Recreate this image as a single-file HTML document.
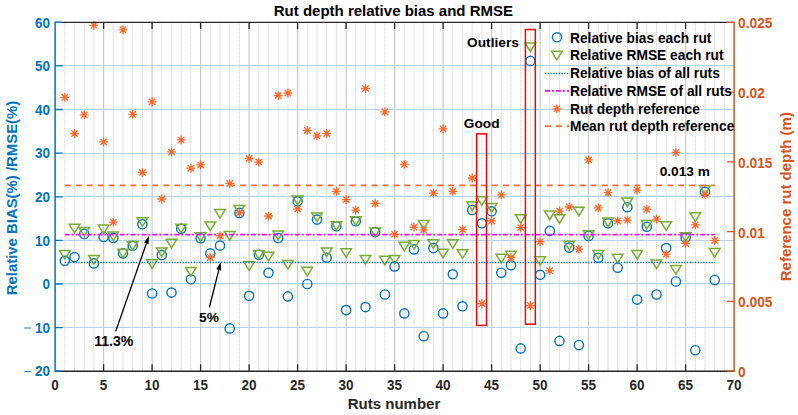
<!DOCTYPE html><html><head><meta charset="utf-8"><style>
html,body{margin:0;padding:0;background:#fff;}
svg{display:block;font-family:"Liberation Sans",sans-serif;font-weight:bold;}
</style></head><body>
<svg width="798" height="415" viewBox="0 0 798 415">
<rect width="798" height="415" fill="#fff"/>
<path d="M64.8 22.3V371.2M74.5 22.3V371.2M84.2 22.3V371.2M93.9 22.3V371.2M113.3 22.3V371.2M123.0 22.3V371.2M132.7 22.3V371.2M142.4 22.3V371.2M161.8 22.3V371.2M171.5 22.3V371.2M181.2 22.3V371.2M190.9 22.3V371.2M210.3 22.3V371.2M220.0 22.3V371.2M229.7 22.3V371.2M239.4 22.3V371.2M258.8 22.3V371.2M268.5 22.3V371.2M278.2 22.3V371.2M287.9 22.3V371.2M307.3 22.3V371.2M317.0 22.3V371.2M326.7 22.3V371.2M336.4 22.3V371.2M355.8 22.3V371.2M365.5 22.3V371.2M375.2 22.3V371.2M384.9 22.3V371.2M404.3 22.3V371.2M414.0 22.3V371.2M423.7 22.3V371.2M433.4 22.3V371.2M452.8 22.3V371.2M462.5 22.3V371.2M472.2 22.3V371.2M481.9 22.3V371.2M501.3 22.3V371.2M511.0 22.3V371.2M520.7 22.3V371.2M530.4 22.3V371.2M549.8 22.3V371.2M559.5 22.3V371.2M569.2 22.3V371.2M578.9 22.3V371.2M598.3 22.3V371.2M608.0 22.3V371.2M617.7 22.3V371.2M627.4 22.3V371.2M646.8 22.3V371.2M656.5 22.3V371.2M666.2 22.3V371.2M675.9 22.3V371.2M695.3 22.3V371.2M705.0 22.3V371.2M714.7 22.3V371.2M724.4 22.3V371.2" stroke="#b9b9b9" stroke-width="0.8" stroke-dasharray="1 1" fill="none"/>
<path d="M103.6 22.3V371.2M152.1 22.3V371.2M200.6 22.3V371.2M249.1 22.3V371.2M297.6 22.3V371.2M346.1 22.3V371.2M394.6 22.3V371.2M443.1 22.3V371.2M491.6 22.3V371.2M540.1 22.3V371.2M588.6 22.3V371.2M637.1 22.3V371.2M685.6 22.3V371.2" stroke="#c9c9c9" stroke-width="1.2" fill="none"/>
<path d="M55.1 327.5H734.1M55.1 283.5H734.1M55.1 240.5H734.1M55.1 196.5H734.1M55.1 153.5H734.1M55.1 109.5H734.1M55.1 65.5H734.1" stroke="#b4d2ec" stroke-width="1" fill="none"/>
<g stroke="#0072BD" stroke-width="1.4" fill="none">
<circle cx="64.8" cy="260.8" r="4.6"/><circle cx="74.5" cy="257.1" r="4.6"/><circle cx="84.2" cy="233.9" r="4.6"/><circle cx="93.9" cy="263.4" r="4.6"/><circle cx="103.6" cy="237.0" r="4.6"/><circle cx="113.3" cy="237.9" r="4.6"/><circle cx="123.0" cy="253.4" r="4.6"/><circle cx="132.7" cy="245.8" r="4.6"/><circle cx="142.4" cy="224.3" r="4.6"/><circle cx="152.1" cy="293.5" r="4.6"/><circle cx="161.8" cy="255.1" r="4.6"/><circle cx="171.5" cy="292.6" r="4.6"/><circle cx="181.2" cy="228.8" r="4.6"/><circle cx="190.9" cy="279.3" r="4.6"/><circle cx="200.6" cy="238.2" r="4.6"/><circle cx="210.3" cy="253.4" r="4.6"/><circle cx="220.0" cy="245.6" r="4.6"/><circle cx="229.7" cy="328.4" r="4.6"/><circle cx="239.4" cy="212.9" r="4.6"/><circle cx="249.1" cy="295.8" r="4.6"/><circle cx="258.8" cy="254.7" r="4.6"/><circle cx="268.5" cy="272.8" r="4.6"/><circle cx="278.2" cy="238.0" r="4.6"/><circle cx="287.9" cy="296.4" r="4.6"/><circle cx="297.6" cy="201.3" r="4.6"/><circle cx="307.3" cy="284.0" r="4.6"/><circle cx="317.0" cy="219.6" r="4.6"/><circle cx="326.7" cy="257.7" r="4.6"/><circle cx="336.4" cy="226.3" r="4.6"/><circle cx="346.1" cy="310.1" r="4.6"/><circle cx="355.8" cy="221.3" r="4.6"/><circle cx="365.5" cy="307.1" r="4.6"/><circle cx="375.2" cy="232.1" r="4.6"/><circle cx="384.9" cy="294.5" r="4.6"/><circle cx="394.6" cy="266.4" r="4.6"/><circle cx="404.3" cy="313.4" r="4.6"/><circle cx="414.0" cy="249.4" r="4.6"/><circle cx="423.7" cy="336.2" r="4.6"/><circle cx="433.4" cy="248.1" r="4.6"/><circle cx="443.1" cy="313.4" r="4.6"/><circle cx="452.8" cy="274.3" r="4.6"/><circle cx="462.5" cy="306.3" r="4.6"/><circle cx="472.2" cy="210.0" r="4.6"/><circle cx="481.9" cy="223.3" r="4.6"/><circle cx="491.6" cy="211.3" r="4.6"/><circle cx="501.3" cy="272.7" r="4.6"/><circle cx="511.0" cy="265.2" r="4.6"/><circle cx="520.7" cy="348.4" r="4.6"/><circle cx="530.4" cy="60.9" r="4.6"/><circle cx="540.1" cy="274.8" r="4.6"/><circle cx="549.8" cy="230.9" r="4.6"/><circle cx="559.5" cy="340.9" r="4.6"/><circle cx="569.2" cy="247.6" r="4.6"/><circle cx="578.9" cy="345.0" r="4.6"/><circle cx="588.6" cy="235.9" r="4.6"/><circle cx="598.3" cy="257.7" r="4.6"/><circle cx="608.0" cy="223.3" r="4.6"/><circle cx="617.7" cy="267.7" r="4.6"/><circle cx="627.4" cy="207.2" r="4.6"/><circle cx="637.1" cy="299.6" r="4.6"/><circle cx="646.8" cy="226.8" r="4.6"/><circle cx="656.5" cy="294.5" r="4.6"/><circle cx="666.2" cy="248.1" r="4.6"/><circle cx="675.9" cy="281.5" r="4.6"/><circle cx="685.6" cy="237.6" r="4.6"/><circle cx="695.3" cy="350.2" r="4.6"/><circle cx="705.0" cy="191.8" r="4.6"/><circle cx="714.7" cy="280.0" r="4.6"/>
</g>
<g stroke="#77AC30" stroke-width="1.5" fill="none" stroke-linejoin="miter">
<path d="M59.5 250.5H70.1L64.8 259.1Z"/><path d="M69.2 224.3H79.8L74.5 232.9Z"/><path d="M78.9 227.4H89.5L84.2 236.0Z"/><path d="M88.6 255.5H99.2L93.9 264.1Z"/><path d="M98.3 225.1H108.9L103.6 233.7Z"/><path d="M108.0 232.0H118.6L113.3 240.6Z"/><path d="M117.7 249.2H128.3L123.0 257.8Z"/><path d="M127.4 241.5H138.0L132.7 250.1Z"/><path d="M137.1 217.8H147.7L142.4 226.4Z"/><path d="M146.8 259.7H157.4L152.1 268.3Z"/><path d="M156.5 248.0H167.1L161.8 256.6Z"/><path d="M166.2 239.2H176.8L171.5 247.8Z"/><path d="M175.9 224.2H186.5L181.2 232.8Z"/><path d="M185.6 267.5H196.2L190.9 276.1Z"/><path d="M195.3 232.7H205.9L200.6 241.3Z"/><path d="M205.0 221.9H215.6L210.3 230.5Z"/><path d="M214.7 209.5H225.3L220.0 218.1Z"/><path d="M224.4 231.6H235.0L229.7 240.2Z"/><path d="M234.1 205.5H244.7L239.4 214.1Z"/><path d="M243.8 261.8H254.4L249.1 270.4Z"/><path d="M253.5 250.5H264.1L258.8 259.1Z"/><path d="M263.2 252.3H273.8L268.5 260.9Z"/><path d="M272.9 231.1H283.5L278.2 239.7Z"/><path d="M282.6 260.5H293.2L287.9 269.1Z"/><path d="M292.3 196.1H302.9L297.6 204.7Z"/><path d="M302.0 267.3H312.6L307.3 275.9Z"/><path d="M311.7 212.9H322.3L317.0 221.5Z"/><path d="M321.4 248.0H332.0L326.7 256.6Z"/><path d="M331.1 221.7H341.7L336.4 230.3Z"/><path d="M340.8 248.8H351.4L346.1 257.4Z"/><path d="M350.5 216.7H361.1L355.8 225.3Z"/><path d="M360.2 255.5H370.8L365.5 264.1Z"/><path d="M369.9 228.0H380.5L375.2 236.6Z"/><path d="M379.6 256.3H390.2L384.9 264.9Z"/><path d="M389.3 255.5H399.9L394.6 264.1Z"/><path d="M399.0 242.2H409.6L404.3 250.8Z"/><path d="M408.7 240.5H419.3L414.0 249.1Z"/><path d="M418.4 220.4H429.0L423.7 229.0Z"/><path d="M428.1 239.7H438.7L433.4 248.3Z"/><path d="M437.8 249.3H448.4L443.1 257.9Z"/><path d="M447.5 239.7H458.1L452.8 248.3Z"/><path d="M457.2 249.8H467.8L462.5 258.4Z"/><path d="M466.9 202.1H477.5L472.2 210.7Z"/><path d="M476.6 196.7H487.2L481.9 205.3Z"/><path d="M486.3 203.6H496.9L491.6 212.2Z"/><path d="M496.0 254.3H506.6L501.3 262.9Z"/><path d="M505.7 251.3H516.3L511.0 259.9Z"/><path d="M515.4 214.7H526.0L520.7 223.3Z"/><path d="M525.1 42.9H535.7L530.4 51.5Z"/><path d="M534.8 256.8H545.4L540.1 265.4Z"/><path d="M544.5 210.9H555.1L549.8 219.5Z"/><path d="M554.2 214.7H564.8L559.5 223.3Z"/><path d="M563.9 241.2H574.5L569.2 249.8Z"/><path d="M573.6 207.2H584.2L578.9 215.8Z"/><path d="M583.3 230.8H593.9L588.6 239.4Z"/><path d="M593.0 250.5H603.6L598.3 259.1Z"/><path d="M602.7 217.9H613.3L608.0 226.5Z"/><path d="M612.4 254.3H623.0L617.7 262.9Z"/><path d="M622.1 197.9H632.7L627.4 206.5Z"/><path d="M631.8 250.5H642.4L637.1 259.1Z"/><path d="M641.5 220.4H652.1L646.8 229.0Z"/><path d="M651.2 260.0H661.8L656.5 268.6Z"/><path d="M660.9 221.7H671.5L666.2 230.3Z"/><path d="M670.6 265.6H681.2L675.9 274.2Z"/><path d="M680.3 232.8H690.9L685.6 241.4Z"/><path d="M690.0 212.8H700.6L695.3 221.4Z"/><path d="M699.7 185.8H710.3L705.0 194.4Z"/><path d="M709.4 248.6H720.0L714.7 257.2Z"/>
</g>
<path d="M64.8 262.4H714.7" stroke="#0072BD" stroke-width="1.5" stroke-dasharray="1.3 1.44" fill="none"/>
<path d="M64.8 234.7H714.7" stroke="#FF00FF" stroke-width="1.7" stroke-dasharray="4.9 2.0 1.9 2.155" fill="none"/>
<g stroke="#FF6A2C" stroke-width="1.3" fill="none" stroke-linecap="round">
<path d="M64.8 93.4V101.2M60.9 97.3H68.7M62.0 94.5L67.6 100.1M62.0 100.1L67.6 94.5"/><path d="M74.5 129.7V137.5M70.6 133.6H78.4M71.7 130.8L77.3 136.4M71.7 136.4L77.3 130.8"/><path d="M84.2 110.9V118.7M80.3 114.8H88.1M81.4 112.0L87.0 117.6M81.4 117.6L87.0 112.0"/><path d="M93.9 21.4V29.2M90.0 25.3H97.8M91.1 22.5L96.7 28.1M91.1 28.1L96.7 22.5"/><path d="M103.6 138.0V145.8M99.7 141.9H107.5M100.8 139.1L106.4 144.7M100.8 144.7L106.4 139.1"/><path d="M113.3 218.3V226.1M109.4 222.2H117.2M110.5 219.4L116.1 225.0M110.5 225.0L116.1 219.4"/><path d="M123.0 25.9V33.7M119.1 29.8H126.9M120.2 27.0L125.8 32.6M120.2 32.6L125.8 27.0"/><path d="M132.7 110.4V118.2M128.8 114.3H136.6M129.9 111.5L135.5 117.1M129.9 117.1L135.5 111.5"/><path d="M142.4 168.6V176.4M138.5 172.5H146.3M139.6 169.7L145.2 175.3M139.6 175.3L145.2 169.7"/><path d="M152.1 97.9V105.7M148.2 101.8H156.0M149.3 99.0L154.9 104.6M149.3 104.6L154.9 99.0"/><path d="M161.8 195.1V202.9M157.9 199.0H165.7M159.0 196.2L164.6 201.8M159.0 201.8L164.6 196.2"/><path d="M171.5 148.0V155.8M167.6 151.9H175.4M168.7 149.1L174.3 154.7M168.7 154.7L174.3 149.1"/><path d="M181.2 136.0V143.8M177.3 139.9H185.1M178.4 137.1L184.0 142.7M178.4 142.7L184.0 137.1"/><path d="M190.9 164.3V172.1M187.0 168.2H194.8M188.1 165.4L193.7 171.0M188.1 171.0L193.7 165.4"/><path d="M200.6 161.0V168.8M196.7 164.9H204.5M197.8 162.1L203.4 167.7M197.8 167.7L203.4 162.1"/><path d="M210.3 253.5V261.3M206.4 257.4H214.2M207.5 254.6L213.1 260.2M207.5 260.2L213.1 254.6"/><path d="M220.0 232.0V239.8M216.1 235.9H223.9M217.2 233.1L222.8 238.7M217.2 238.7L222.8 233.1"/><path d="M229.7 179.6V187.4M225.8 183.5H233.6M226.9 180.7L232.5 186.3M226.9 186.3L232.5 180.7"/><path d="M239.4 208.9V216.7M235.5 212.8H243.3M236.6 210.0L242.2 215.6M236.6 215.6L242.2 210.0"/><path d="M249.1 154.6V162.4M245.2 158.5H253.0M246.3 155.7L251.9 161.3M246.3 161.3L251.9 155.7"/><path d="M258.8 158.2V166.0M254.9 162.1H262.7M256.0 159.3L261.6 164.9M256.0 164.9L261.6 159.3"/><path d="M268.5 212.1V219.9M264.6 216.0H272.4M265.7 213.2L271.3 218.8M265.7 218.8L271.3 213.2"/><path d="M278.2 91.6V99.4M274.3 95.5H282.1M275.4 92.7L281.0 98.3M275.4 98.3L281.0 92.7"/><path d="M287.9 89.1V96.9M284.0 93.0H291.8M285.1 90.2L290.7 95.8M285.1 95.8L290.7 90.2"/><path d="M297.6 205.1V212.9M293.7 209.0H301.5M294.8 206.2L300.4 211.8M294.8 211.8L300.4 206.2"/><path d="M307.3 126.5V134.3M303.4 130.4H311.2M304.5 127.6L310.1 133.2M304.5 133.2L310.1 127.6"/><path d="M317.0 131.9V139.7M313.1 135.8H320.9M314.2 133.0L319.8 138.6M314.2 138.6L319.8 133.0"/><path d="M326.7 129.5V137.3M322.8 133.4H330.6M323.9 130.6L329.5 136.2M323.9 136.2L329.5 130.6"/><path d="M336.4 187.4V195.2M332.5 191.3H340.3M333.6 188.5L339.2 194.1M333.6 194.1L339.2 188.5"/><path d="M346.1 195.7V203.5M342.2 199.6H350.0M343.3 196.8L348.9 202.4M343.3 202.4L348.9 196.8"/><path d="M355.8 206.2V214.0M351.9 210.1H359.7M353.0 207.3L358.6 212.9M353.0 212.9L358.6 207.3"/><path d="M365.5 84.6V92.4M361.6 88.5H369.4M362.7 85.7L368.3 91.3M362.7 91.3L368.3 85.7"/><path d="M375.2 199.5V207.3M371.3 203.4H379.1M372.4 200.6L378.0 206.2M372.4 206.2L378.0 200.6"/><path d="M384.9 107.9V115.7M381.0 111.8H388.8M382.1 109.0L387.7 114.6M382.1 114.6L387.7 109.0"/><path d="M394.6 230.3V238.1M390.7 234.2H398.5M391.8 231.4L397.4 237.0M391.8 237.0L397.4 231.4"/><path d="M404.3 160.5V168.3M400.4 164.4H408.2M401.5 161.6L407.1 167.2M401.5 167.2L407.1 161.6"/><path d="M414.0 223.2V231.0M410.1 227.1H417.9M411.2 224.3L416.8 229.9M411.2 229.9L416.8 224.3"/><path d="M423.7 226.0V233.8M419.8 229.9H427.6M420.9 227.1L426.5 232.7M420.9 232.7L426.5 227.1"/><path d="M433.4 189.2V197.0M429.5 193.1H437.3M430.6 190.3L436.2 195.9M430.6 195.9L436.2 190.3"/><path d="M443.1 125.0V132.8M439.2 128.9H447.0M440.3 126.1L445.9 131.7M440.3 131.7L445.9 126.1"/><path d="M452.8 187.4V195.2M448.9 191.3H456.7M450.0 188.5L455.6 194.1M450.0 194.1L455.6 188.5"/><path d="M462.5 225.7V233.5M458.6 229.6H466.4M459.7 226.8L465.3 232.4M459.7 232.4L465.3 226.8"/><path d="M472.2 174.1V181.9M468.3 178.0H476.1M469.4 175.2L475.0 180.8M469.4 180.8L475.0 175.2"/><path d="M481.9 299.7V307.5M478.0 303.6H485.8M479.1 300.8L484.7 306.4M479.1 306.4L484.7 300.8"/><path d="M491.6 217.0V224.8M487.7 220.9H495.5M488.8 218.1L494.4 223.7M488.8 223.7L494.4 218.1"/><path d="M501.3 191.0V198.8M497.4 194.9H505.2M498.5 192.1L504.1 197.7M498.5 197.7L504.1 192.1"/><path d="M511.0 253.6V261.4M507.1 257.5H514.9M508.2 254.7L513.8 260.3M508.2 260.3L513.8 254.7"/><path d="M520.7 223.5V231.3M516.8 227.4H524.6M517.9 224.6L523.5 230.2M517.9 230.2L523.5 224.6"/><path d="M530.4 301.7V309.5M526.5 305.6H534.3M527.6 302.8L533.2 308.4M527.6 308.4L533.2 302.8"/><path d="M540.1 237.8V245.6M536.2 241.7H544.0M537.3 238.9L542.9 244.5M537.3 244.5L542.9 238.9"/><path d="M549.8 266.9V274.7M545.9 270.8H553.7M547.0 268.0L552.6 273.6M547.0 273.6L552.6 268.0"/><path d="M559.5 207.2V215.0M555.6 211.1H563.4M556.7 208.3L562.3 213.9M556.7 213.9L562.3 208.3"/><path d="M569.2 203.1V210.9M565.3 207.0H573.1M566.4 204.2L572.0 209.8M566.4 209.8L572.0 204.2"/><path d="M578.9 245.3V253.1M575.0 249.2H582.8M576.1 246.4L581.7 252.0M576.1 252.0L581.7 246.4"/><path d="M588.6 155.9V163.7M584.7 159.8H592.5M585.8 157.0L591.4 162.6M585.8 162.6L591.4 157.0"/><path d="M598.3 204.0V211.8M594.4 207.9H602.2M595.5 205.1L601.1 210.7M595.5 210.7L601.1 205.1"/><path d="M608.0 188.7V196.5M604.1 192.6H611.9M605.2 189.8L610.8 195.4M605.2 195.4L610.8 189.8"/><path d="M617.7 217.0V224.8M613.8 220.9H621.6M614.9 218.1L620.5 223.7M614.9 223.7L620.5 218.1"/><path d="M627.4 216.2V224.0M623.5 220.1H631.3M624.6 217.3L630.2 222.9M624.6 222.9L630.2 217.3"/><path d="M637.1 186.2V194.0M633.2 190.1H641.0M634.3 187.3L639.9 192.9M634.3 192.9L639.9 187.3"/><path d="M646.8 205.3V213.1M642.9 209.2H650.7M644.0 206.4L649.6 212.0M644.0 212.0L649.6 206.4"/><path d="M656.5 215.2V223.0M652.6 219.1H660.4M653.7 216.3L659.3 221.9M653.7 221.9L659.3 216.3"/><path d="M666.2 250.3V258.1M662.3 254.2H670.1M663.4 251.4L669.0 257.0M663.4 257.0L669.0 251.4"/><path d="M675.9 148.5V156.3M672.0 152.4H679.8M673.1 149.6L678.7 155.2M673.1 155.2L678.7 149.6"/><path d="M685.6 239.5V247.3M681.7 243.4H689.5M682.8 240.6L688.4 246.2M682.8 246.2L688.4 240.6"/><path d="M695.3 221.0V228.8M691.4 224.9H699.2M692.5 222.1L698.1 227.7M692.5 227.7L698.1 222.1"/><path d="M705.0 190.7V198.5M701.1 194.6H708.9M702.2 191.8L707.8 197.4M702.2 197.4L707.8 191.8"/><path d="M714.7 236.5V244.3M710.8 240.4H718.6M711.9 237.6L717.5 243.2M711.9 243.2L717.5 237.6"/>
</g>
<path d="M64.8 185.3H714.7" stroke="#FF6A2C" stroke-width="1.7" stroke-dasharray="5.8 5.155" fill="none"/>
<g stroke="#FF0000" stroke-width="1.5" fill="none">
<rect x="476.6" y="133.9" width="9.9" height="191.5"/>
<rect x="525.4" y="29.5" width="9.9" height="294.7"/>
</g>
<g font-size="13.7" fill="#000">
<text x="463.8" y="127.9">Good</text>
<text x="467.1" y="47.4">Outliers</text>
<text x="659.7" y="175.6">0.013 m</text>
<text x="94.2" y="346.0" font-size="14.1">11.3%</text>
<text x="199.1" y="321.6">5%</text>
</g>
<path d="M115.7 331.4L146.4 243.4" stroke="#000" stroke-width="1.3" fill="none"/><path d="M149.0 235.8L148.7 244.2L144.0 242.5Z" fill="#000"/>
<path d="M209.4 307.4L218.8 269.9" stroke="#000" stroke-width="1.3" fill="none"/><path d="M220.7 262.1L221.2 270.5L216.3 269.3Z" fill="#000"/>
<path d="M55.1 22.4H734.1" stroke="#262626" stroke-width="1.2" fill="none"/>
<path d="M55.1 371.2H734.1" stroke="#262626" stroke-width="1.5" fill="none"/>
<path d="M103.6 371.2V364.2M103.6 22.3V29.1M152.1 371.2V364.2M152.1 22.3V29.1M200.6 371.2V364.2M200.6 22.3V29.1M249.1 371.2V364.2M249.1 22.3V29.1M297.6 371.2V364.2M297.6 22.3V29.1M346.1 371.2V364.2M346.1 22.3V29.1M394.6 371.2V364.2M394.6 22.3V29.1M443.1 371.2V364.2M443.1 22.3V29.1M491.6 371.2V364.2M491.6 22.3V29.1M540.1 371.2V364.2M540.1 22.3V29.1M588.6 371.2V364.2M588.6 22.3V29.1M637.1 371.2V364.2M637.1 22.3V29.1M685.6 371.2V364.2M685.6 22.3V29.1" stroke="#262626" stroke-width="1.3" fill="none"/>
<path d="M55.1 21.7V371.9" stroke="#0072BD" stroke-width="1.5" fill="none"/>
<path d="M55.1 371.2H62.6M55.1 327.6H62.6M55.1 284.0H62.6M55.1 240.4H62.6M55.1 196.8H62.6M55.1 153.1H62.6M55.1 109.5H62.6M55.1 65.9H62.6M55.1 22.3H62.6" stroke="#0072BD" stroke-width="1.3" fill="none"/>
<path d="M734.1 21.7V371.9" stroke="#D95319" stroke-width="1.5" fill="none"/>
<path d="M734.1 371.2H727.1M734.1 301.4H727.1M734.1 231.6H727.1M734.1 161.9H727.1M734.1 92.1H727.1M734.1 22.3H727.1" stroke="#D95319" stroke-width="1.3" fill="none"/>
<g font-size="13.5" fill="#0072BD" text-anchor="end">
<text transform="translate(50.1 376.4) scale(1 1.1)">20</text>
<text transform="translate(50.1 332.8) scale(1 1.1)">10</text>
<text transform="translate(50.1 289.2) scale(1 1.1)">0</text>
<text transform="translate(50.1 245.6) scale(1 1.1)">10</text>
<text transform="translate(50.1 201.9) scale(1 1.1)">20</text>
<text transform="translate(50.1 158.3) scale(1 1.1)">30</text>
<text transform="translate(50.1 114.7) scale(1 1.1)">40</text>
<text transform="translate(50.1 71.1) scale(1 1.1)">50</text>
<text transform="translate(50.1 27.5) scale(1 1.1)">60</text>
</g>
<rect x="24.3" y="327.39" width="6.5" height="1.2" fill="#0072BD" fill-opacity="0.8"/>
<rect x="24.3" y="371.00" width="6.5" height="1.2" fill="#0072BD" fill-opacity="0.8"/>
<g font-size="13.7" fill="#D95319">
<text transform="translate(738.1 377.2) scale(1 1.1)">0</text>
<text transform="translate(738.1 307.4) scale(1 1.1)">0.005</text>
<text transform="translate(738.1 237.6) scale(1 1.1)">0.01</text>
<text transform="translate(738.1 167.9) scale(1 1.1)">0.015</text>
<text transform="translate(738.1 98.1) scale(1 1.1)">0.02</text>
<text transform="translate(738.1 28.3) scale(1 1.1)">0.025</text>
</g>
<g font-size="13.5" fill="#262626" text-anchor="middle">
<text transform="translate(55.1 389.9) scale(1 1.1)">0</text>
<text transform="translate(103.6 389.9) scale(1 1.1)">5</text>
<text transform="translate(152.1 389.9) scale(1 1.1)">10</text>
<text transform="translate(200.6 389.9) scale(1 1.1)">15</text>
<text transform="translate(249.1 389.9) scale(1 1.1)">20</text>
<text transform="translate(297.6 389.9) scale(1 1.1)">25</text>
<text transform="translate(346.1 389.9) scale(1 1.1)">30</text>
<text transform="translate(394.6 389.9) scale(1 1.1)">35</text>
<text transform="translate(443.1 389.9) scale(1 1.1)">40</text>
<text transform="translate(491.6 389.9) scale(1 1.1)">45</text>
<text transform="translate(540.1 389.9) scale(1 1.1)">50</text>
<text transform="translate(588.6 389.9) scale(1 1.1)">55</text>
<text transform="translate(637.1 389.9) scale(1 1.1)">60</text>
<text transform="translate(685.6 389.9) scale(1 1.1)">65</text>
<text transform="translate(734.1 389.9) scale(1 1.1)">70</text>
</g>
<text x="394.05" y="409" font-size="15" fill="#262626" text-anchor="middle">Ruts number</text>
<text transform="translate(17.0 198) rotate(-90)" font-size="14.9" fill="#0072BD" text-anchor="middle">Relative BIAS(%) /RMSE(%)</text>
<text transform="translate(791 196.7) rotate(-90)" font-size="15" fill="#D95319" text-anchor="middle">Reference rut depth (m)</text>
<text x="393.4" y="16.2" font-size="15" fill="#000" text-anchor="middle">Rut depth relative bias and RMSE</text>
<g font-size="13.75" fill="#000">
<text x="570.0" y="42.8">Relative bias each rut</text>
<text x="570.0" y="60.1">Relative RMSE each rut</text>
<text x="570.0" y="78.4">Relative bias of all ruts</text>
<text x="570.0" y="95.7">Relative RMSE of all ruts</text>
<text x="570.0" y="113.6">Rut depth reference</text>
<text x="570.0" y="131.0">Mean rut depth reference</text>
</g>
<g stroke="#0072BD" stroke-width="1.4" fill="none"><circle cx="557.0" cy="37.3" r="4.6"/></g>
<g stroke="#77AC30" stroke-width="1.5" fill="none"><path d="M551.5 51.3H562.1L556.8 59.9Z"/></g>
<path d="M545 73.6H569" stroke="#0072BD" stroke-width="1.5" stroke-dasharray="1.3 1.44" fill="none"/>
<path d="M545 90.9H569" stroke="#FF00FF" stroke-width="1.7" stroke-dasharray="4.9 2.0 1.9 2.155" fill="none"/>
<g stroke="#FF6A2C" stroke-width="1.3" fill="none" stroke-linecap="round"><path d="M556.8 104.9V112.7M552.9 108.8H560.7M554.0 106.0L559.6 111.6M554.0 111.6L559.6 106.0"/></g>
<path d="M545 126.2H569" stroke="#FF6A2C" stroke-width="1.7" stroke-dasharray="5.8 5.155" fill="none"/>
</svg></body></html>
